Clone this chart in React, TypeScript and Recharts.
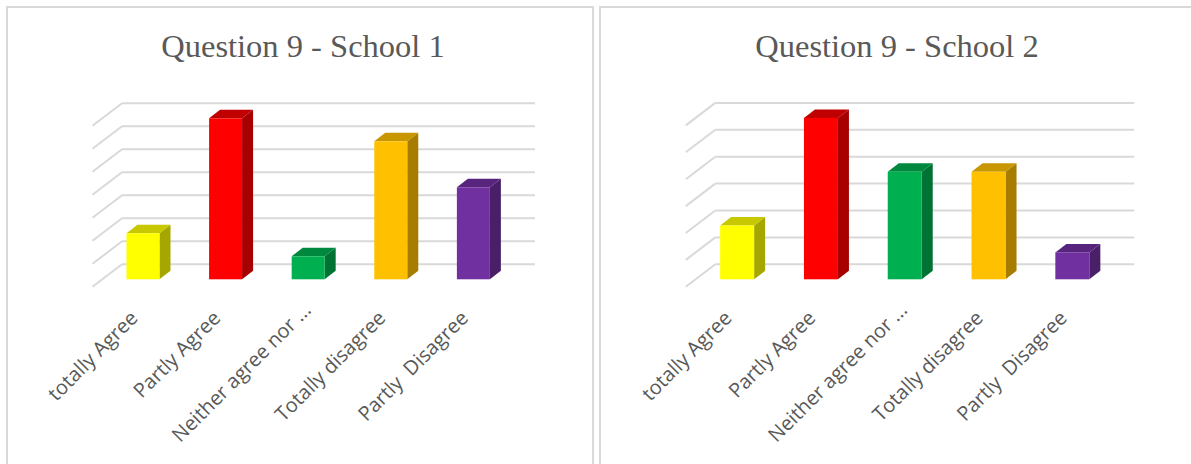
import * as React from "react";
import { Bar, BarChart, CartesianGrid, XAxis, YAxis } from "recharts";

const categories = [
  "totally Agree",
  "Partly Agree",
  "Neither agree nor ...",
  "Totally disagree",
  "Partly  Disagree",
];
const school1 = [2, 7, 1, 6, 4];
const school2 = [2, 6, 4, 4, 1];
const ticks1 = [0, 1, 2, 3, 4, 5, 6, 7];
const ticks2 = [0, 1, 2, 3, 4, 5, 6];

// front / side / top faces of each 3D column
const frontColors = ["#FFFF00", "#FF0000", "#00B050", "#FFC000", "#7030A0"];
const sideColors = ["#A6A600", "#A60000", "#007234", "#A67D00", "#491F68"];
const topColors = ["#C8C800", "#C00000", "#00893E", "#C79600", "#57257D"];

const GRID = "#d9d9d9";
const TEXT = "#595959";
// offset from the bar plane to the back wall, and full floor depth
const WALL_DX = 20.3;
const WALL_DY = 15;
const FLOOR_DX = 29.5;
const FLOOR_DY = 22.5;
// depth of the column itself
const BAR_DX = 11;
const BAR_DY = 8.5;

function Column3D(props: any) {
  const { x, y, width, height, index } = props;
  if (height == null || width == null) return null;
  const r = x + width;
  const b = y + height;
  return (
    <g>
      <polygon
        points={`${r},${y} ${r + BAR_DX},${y - BAR_DY} ${r + BAR_DX},${b - BAR_DY} ${r},${b}`}
        fill={sideColors[index]}
      />
      <polygon
        points={`${x},${y} ${x + BAR_DX},${y - BAR_DY} ${r + BAR_DX},${y - BAR_DY} ${r},${y}`}
        fill={topColors[index]}
      />
      <rect x={x} y={y} width={width} height={height} fill={frontColors[index]} />
    </g>
  );
}

function WallLine(props: any) {
  const { x1, x2, y1 } = props;
  const yb = y1 - WALL_DY;
  const xl = x1 + WALL_DX;
  return (
    <g>
      <line x1={xl} y1={yb} x2={x2 + WALL_DX} y2={yb} stroke={GRID} strokeWidth={2} />
      <line
        x1={xl}
        y1={yb}
        x2={xl - FLOOR_DX}
        y2={yb + FLOOR_DY}
        stroke={GRID}
        strokeWidth={2}
      />
    </g>
  );
}

function AngledTick(props: any) {
  const { x, y, payload } = props;
  const label = String(payload.value);
  // Excel keeps the anchor of the untruncated label, so cut-off labels sit a bit higher
  const nudge = label.endsWith("...") ? 8 : 0;
  const tx = x - 4 + nudge;
  const ty = y + 40 - nudge;
  return (
    <text
      x={tx}
      y={ty}
      transform={`rotate(-45, ${tx}, ${ty})`}
      textAnchor="end"
      fill={TEXT}
      fontSize={20}
      fontFamily="'Open Sans', sans-serif"
      style={{ whiteSpace: "pre" }}
    >
      {label}
    </text>
  );
}

function Panel3D({
  title,
  values,
  ticks,
  left,
  width,
  margin,
  titleCenter,
}: {
  title: string;
  values: number[];
  ticks: number[];
  left: number;
  width: number;
  margin: { top: number; right: number; bottom: number; left: number };
  titleCenter: number;
}) {
  const data = categories.map((name, i) => ({ name, value: values[i] }));
  return (
    <div style={{ position: "absolute", left, top: 0, width, height: 464 }}>
      <div
        style={{
          position: "absolute",
          left: titleCenter - 200,
          width: 400,
          top: 30,
          textAlign: "center",
          fontFamily: "'Liberation Serif', 'Times New Roman', serif",
          fontSize: 32.5,
          lineHeight: "32px",
          color: TEXT,
          whiteSpace: "nowrap",
        }}
      >
        {title}
      </div>
      <BarChart width={width} height={464} data={data} margin={margin} barCategoryGap="30%">
        <CartesianGrid
          vertical={false}
          horizontalValues={ticks}
          horizontal={(p: any) => <WallLine key={p.key} {...p} />}
        />
        <YAxis
          hide
          type="number"
          domain={[0, ticks[ticks.length - 1]]}
          ticks={ticks}
          interval={0}
        />
        <XAxis
          dataKey="name"
          axisLine={false}
          tickLine={false}
          tickSize={0}
          tickMargin={0}
          height={100}
          interval={0}
          tick={<AngledTick />}
        />
        <Bar dataKey="value" isAnimationActive={false} shape={<Column3D />} />
      </BarChart>
    </div>
  );
}

export default function App() {
  return (
    <div
      style={{
        position: "absolute",
        left: 0,
        top: 0,
        width: 1191,
        height: 464,
        overflow: "hidden",
        background: "#fff",
      }}
    >
      <div
        style={{
          position: "absolute",
          left: 6,
          top: 6,
          width: 588,
          height: 480,
          boxSizing: "border-box",
          border: `2px solid ${GRID}`,
        }}
      />
      <div
        style={{
          position: "absolute",
          left: 599,
          top: 6,
          width: 620,
          height: 480,
          boxSizing: "border-box",
          border: `2px solid ${GRID}`,
        }}
      />
      <Panel3D
        title="Question 9 - School 1"
        values={school1}
        ticks={ticks1}
        left={0}
        width={596}
        margin={{ top: 118.3, right: 81.3, bottom: 84.7, left: 101.7 }}
        titleCenter={303}
      />
      <Panel3D
        title="Question 9 - School 2"
        values={school2}
        ticks={ticks2}
        left={597}
        width={594}
        margin={{ top: 117.9, right: 77, bottom: 84.7, left: 98 }}
        titleCenter={300}
      />
    </div>
  );
}
